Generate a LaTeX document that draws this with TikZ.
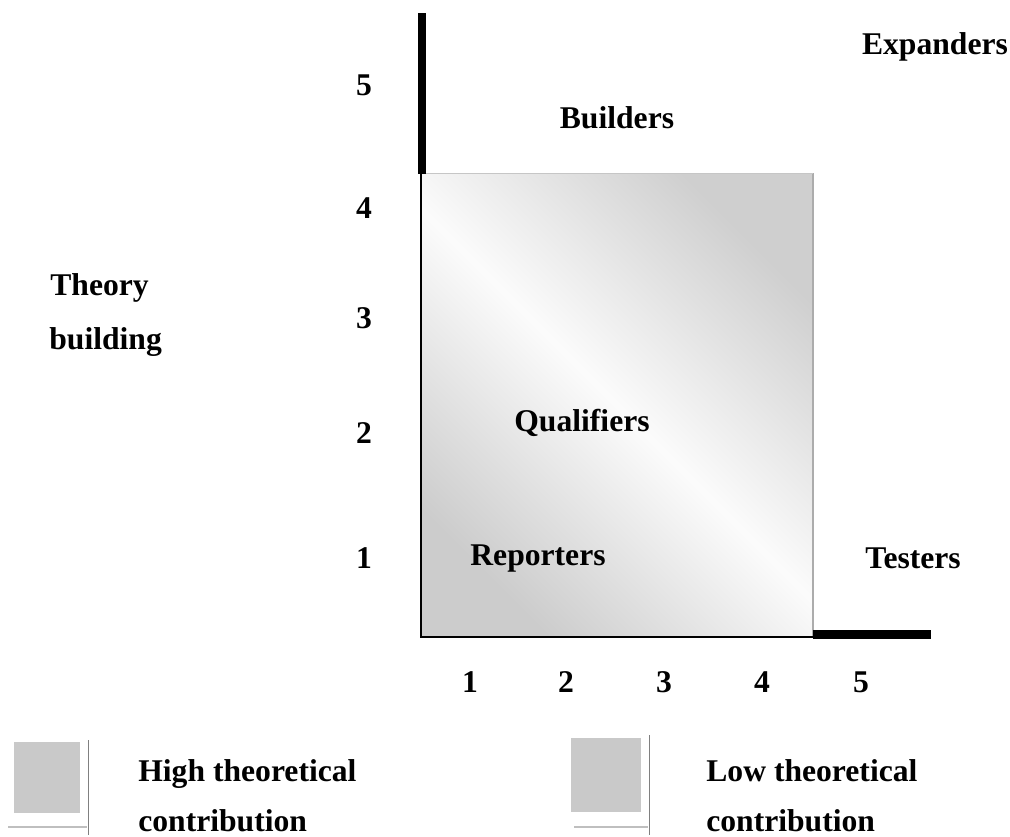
\documentclass[tikz,border=0pt]{standalone}
\usepackage{fontspec}
\setmainfont{Liberation Serif}
\usetikzlibrary{positioning}
\tikzset{
  lbl/.style={font=\fontsize{18}{21}\selectfont\bfseries,inner sep=0pt},
  keytxt/.style={font=\fontsize{18}{21}\selectfont\bfseries,inner sep=0pt,anchor=base west},
  keybox/.style={fill=gray!42,draw=none}
}
\begin{document}
\begin{tikzpicture}[x=0.02cm,y=-0.02cm,line cap=butt]
  \useasboundingbox (0,0) rectangle (1010,836);
  % shaded region
  \shade[top color=gray!38,bottom color=gray!40,middle color=gray!3,shading angle=-45]
    (421,173) rectangle (813,637);
  \draw[line width=0.8pt,gray!65] (813,173) -- (813,637);
  \draw[line width=0.4pt,gray!45] (421,173) -- (813,173);
  \draw[line width=1.4pt] (421,173) -- (421,638);
  \draw[line width=1.6pt] (421,637) -- (813,637);
  % thick bars
  \draw[line width=4pt] (422,13) -- (422,174);
  \draw[line width=5pt] (813,634.5) -- (931,634.5);
  % axis numbers
  \foreach \n/\y in {5/85,4/208,3/318,2/433,1/558}
    \node[lbl] (y\n) at (364,\y) {\n};
  \foreach \n/\x in {1/470,2/566,3/664,4/762,5/861}
    \node[lbl,anchor=base] (x\n) at (\x,692) {\n};
  % labels
  \node[lbl,anchor=base] (expanders) at (935,54) {Expanders};
  \node[lbl,anchor=base] (builders) at (617,128) {Builders};
  \node[lbl,anchor=base west] (theory) at (50,295) {Theory};
  \node[lbl,anchor=base west] (building) at (49,349) {building};
  \node[lbl,anchor=base] (qualifiers) at (582,431) {Qualifiers};
  \node[lbl,anchor=base] (reporters) at (538,565) {Reporters};
  \node[lbl,anchor=base] (testers) at (913,568) {Testers};
  % key
  \fill[keybox] (14,742) rectangle (80,813);
  \draw[gray,line width=0.5pt] (88,740) -- (88,835);
  \draw[gray!50,line width=1.6pt] (8,827) -- (87,827);
  \fill[keybox] (571,738) rectangle (641,812);
  \draw[gray,line width=0.5pt] (649,735) -- (649,835);
  \draw[gray!50,line width=1.6pt] (574,827) -- (648,827);
  \node[keytxt] (high) at (138,781) {High theoretical};
  \node[keytxt] (highc) at (138,831) {contribution};
  \node[keytxt] (low) at (706,781) {Low theoretical};
  \node[keytxt] (lowc) at (706,831) {contribution};
\end{tikzpicture}
\end{document}
